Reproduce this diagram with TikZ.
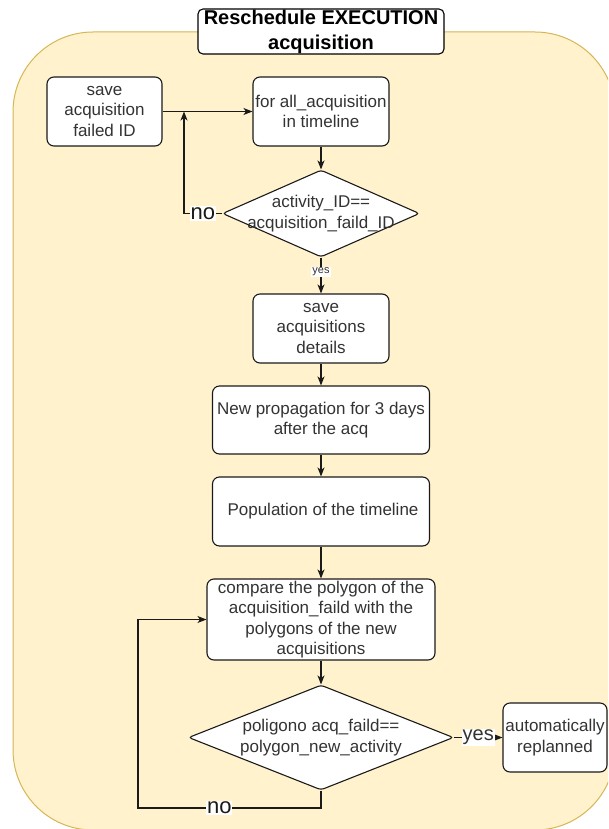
\documentclass[tikz,border=0pt]{standalone}
\usepackage{fontspec}
\setmainfont{Liberation Sans}
\usetikzlibrary{shapes.geometric,arrows.meta}
\definecolor{groupfill}{HTML}{FFF2CC}
\definecolor{groupline}{HTML}{D6B656}
\definecolor{ink}{HTML}{1A1A1A}
\definecolor{bodytext}{HTML}{333333}
\begin{document}
\begin{tikzpicture}[x=1pt,y=-1pt,
  proc/.style={draw=ink, fill=white, rounded corners=7pt, line width=1.1pt,
    align=center, inner sep=0pt, text=bodytext, font=\fontsize{17}{20.5}\selectfont},
  titlebox/.style={draw=black, fill=white, rounded corners=5pt, line width=1.1pt,
    align=center, inner sep=0pt, font=\bfseries\fontsize{20}{25}\selectfont},
  decision/.style={diamond, draw=ink, fill=white, rounded corners=3pt,
    line width=1.1pt, inner sep=0pt},
  dtext/.style={align=center, text=bodytext, font=\fontsize{17}{20.5}\selectfont},
  flow/.style={draw=ink, line width=1.1pt, -{Stealth[length=9pt,width=7pt,inset=2.5pt]}},
  nolabel/.style={fill=white, inner sep=1pt, text=ink, font=\fontsize{22}{22}\selectfont},
  yeslabel/.style={fill=white, inner sep=1pt, text=bodytext, font=\fontsize{20}{20}\selectfont},
  smalllabel/.style={fill=white, inner sep=1pt, text=bodytext, font=\fontsize{11}{11}\selectfont},
]
\useasboundingbox (0,0) rectangle (608,829);

% container of the procedure
\begin{scope}
  \clip (0,0) rectangle (608,829);
  \path[draw=groupline, fill=groupfill, line width=1pt, rounded corners=80pt]
    (13,32) rectangle (615,830);
\end{scope}

% title
\node[titlebox, minimum width=246pt, minimum height=45pt] (title) at (321,31.5)
  {Reschedule EXECUTION\\acquisition};

% steps
\node[proc, minimum width=115pt, minimum height=69pt] (save) at (104.5,111.5)
  {save\\acquisition\\failed ID};
\node[proc, minimum width=136pt, minimum height=69pt] (for) at (321,111.5)
  {for all\_acquisition\\in timeline};
\node[decision, minimum width=197pt, minimum height=87pt,
  label={[dtext]center:activity\_ID==\\acquisition\_faild\_ID}] (d1) at (321,213.5) {};
\node[proc, minimum width=136pt, minimum height=69pt] (details) at (321,328.5)
  {save\\acquisitions\\details};
\node[proc, minimum width=217pt, minimum height=68pt] (prop) at (321,420)
  {New propagation for 3 days\\after the acq};
\node[proc, minimum width=217pt, minimum height=69pt] (pop) at (321,511.5)
  {\hspace{4pt}Population of the timeline};
\node[proc, minimum width=228pt, minimum height=81pt] (cmp) at (321,619.5)
  {compare the polygon of the\\acquisition\_faild with the\\polygons of the new\\acquisitions};
\node[decision, minimum width=265pt, minimum height=105pt,
  label={[dtext]center:poligono acq\_faild==\\polygon\_new\_activity}] (d2) at (321,737.5) {};
\node[proc, minimum width=104pt, minimum height=69pt] (auto) at (555,737.5)
  {automatically\\replanned};

% loop corners
\coordinate (j1) at (184,111.5);
\coordinate (j2) at (138,808);

% connectors
\draw[flow] (save) -- (for);
\draw[flow] (for) -- (d1);
\draw[flow] (d1.west) -- node[nolabel]{no} (d1.west -| j1) -- (j1);
\draw[flow] (d1) -- node[smalllabel, pos=0.4]{yes} (details);
\draw[flow] (details) -- (prop);
\draw[flow] (prop) -- (pop);
\draw[flow] (pop) -- (cmp);
\draw[flow] (cmp) -- (d2);
\draw[flow] (d2.east) -- node[yeslabel]{yes} (auto.west);
\draw[flow] (d2.south) -- (d2.south |- j2) -- node[nolabel, pos=0.556]{no} (j2)
  |- (cmp.west);
\end{tikzpicture}
\end{document}
